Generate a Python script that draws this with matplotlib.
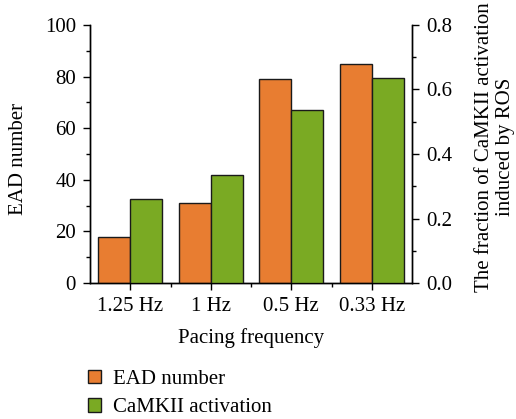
import matplotlib
matplotlib.use("Agg")
import matplotlib.pyplot as plt
import numpy as np
from matplotlib.ticker import MultipleLocator, FixedLocator, FormatStrFormatter
from matplotlib.patches import Patch

categories = ["1.25 Hz", "1 Hz", "0.5 Hz", "0.33 Hz"]
ead_number = [18, 31, 79, 85]
camkii_activation = [0.262, 0.334, 0.535, 0.635]

plt.rcParams['font.family'] = ['Liberation Serif', 'DejaVu Serif']
FS = 15

orange = '#E87D31'
green = '#7AAA23'

fig = plt.figure(figsize=(5.16, 4.19), dpi=100)
ax = fig.add_axes([90/516, 1-283/419, 322/516, 258/419])
ax2 = ax.twinx()

x = np.arange(len(categories))
w = 0.4
ax.bar(x - w/2, ead_number, w, color=orange, edgecolor='#1a1a1a', linewidth=1.0, zorder=3)
ax2.bar(x + w/2, camkii_activation, w, color=green, edgecolor='#1a1a1a', linewidth=1.0, zorder=3)

ax.set_xlim(-0.5, 3.5)
ax.set_ylim(0, 100)
ax2.set_ylim(0, 0.8)

ax.set_xticks(x)
ax.set_xticklabels(categories)
ax.xaxis.set_minor_locator(FixedLocator([0.5, 1.5, 2.5]))
ax.yaxis.set_major_locator(MultipleLocator(20))
ax.yaxis.set_minor_locator(MultipleLocator(10))
ax2.yaxis.set_major_locator(MultipleLocator(0.2))
ax2.yaxis.set_minor_locator(MultipleLocator(0.1))
ax2.yaxis.set_major_formatter(FormatStrFormatter('%.1f'))

for a in (ax, ax2):
    a.spines['top'].set_visible(False)
    for s in a.spines.values():
        s.set_linewidth(1.0)
ax.tick_params(which='major', direction='out', length=5, width=1.0, labelsize=FS, pad=5)
ax.tick_params(which='minor', direction='out', length=3, width=1.0)
ax2.tick_params(which='major', direction='out', length=5, width=1.0, labelsize=FS, pad=5)
ax2.tick_params(which='minor', direction='out', length=3, width=1.0)

ax.set_ylabel("EAD number", fontsize=FS)
ax.yaxis.set_label_coords((19-90)/322, 0.48)
ax.set_xlabel("Pacing frequency", fontsize=FS)
ax.xaxis.set_label_coords(0.5, -(338-283)/258)
ax.xaxis.label.set_va('center')
ax.yaxis.label.set_va('center')
ax2.set_ylabel("The fraction of CaMKII activation\ninduced by ROS", fontsize=FS, linespacing=1.2)
ax2.yaxis.set_label_coords((495-90)/322, (283-147)/258)
ax2.yaxis.label.set_va('center')

handles = [Patch(facecolor=orange, edgecolor='#1a1a1a', label='EAD number'),
           Patch(facecolor=green, edgecolor='#1a1a1a', label='CaMKII activation')]
fig.legend(handles=handles, loc='upper left', bbox_to_anchor=(88/516, 1-370/419),
           frameon=False, fontsize=FS, handlelength=0.6, handleheight=0.6,
           handletextpad=0.6, labelspacing=0.45, borderaxespad=0, borderpad=0)

fig.savefig("out.png", dpi=100)
